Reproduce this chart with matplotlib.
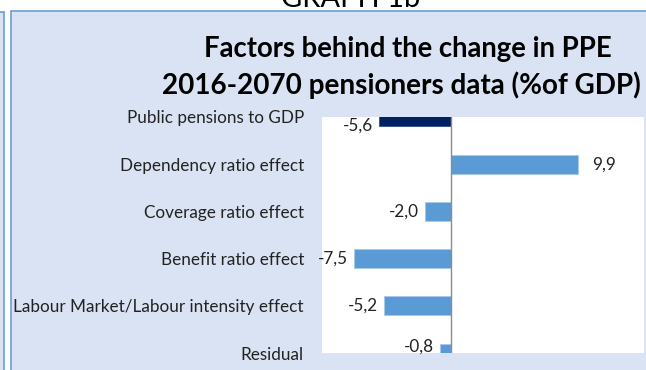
import matplotlib
matplotlib.use("Agg")
import matplotlib.pyplot as plt
from matplotlib.patches import Rectangle

# data (top to bottom)
categories = ["Public pensions to GDP", "Dependency ratio effect", "Coverage ratio effect",
              "Benefit ratio effect", "Labour Market/Labour intensity effect", "Residual"]
values = [-5.6, 9.9, -2.0, -7.5, -5.2, -0.8]
value_labels = ["-5,6", "9,9", "-2,0", "-7,5", "-5,2", "-0,8"]
bar_colors = ["#002060", "#5b9bd5", "#5b9bd5", "#5b9bd5", "#5b9bd5", "#5b9bd5"]
edge_colors = ["#3a5a94", "#a9c9ea", "#a9c9ea", "#a9c9ea", "#a9c9ea", "#a9c9ea"]

BG = "#dae3f3"
BORDER = "#6a9fd8"
TXT = "#222222"

plt.rcParams["font.family"] = ["Lato", "DejaVu Sans"]

W, H = 646, 370
fig = plt.figure(figsize=(W / 100, H / 100), dpi=100)
fig.patch.set_facecolor("white")

# background panels (screenshot frame), drawn on an axes kept behind the chart
bg = fig.add_axes([0, 0, 1, 1], zorder=-1)
bg.set_xlim(0, W)
bg.set_ylim(H, 0)
bg.axis("off")
bg.add_patch(Rectangle((11, 11), W, H, facecolor=BG, edgecolor=BORDER, lw=1.2))
bg.add_patch(Rectangle((-10, 12), 13.5, H, facecolor=BG, edgecolor=BORDER, lw=1.2))

# cut-off heading above the box
fig.text(351 / W, 1 - 7 / H, "GRAPH 1b", ha="center", va="baseline", fontsize=21, color="black")

fig.text(408 / W, 1 - 57 / H, "Factors behind the change in PPE", ha="center", va="baseline",
         fontsize=19.8, fontweight="bold", color="black")
fig.text(401 / W, 1 - 94 / H, "2016-2070 pensioners data (%of GDP)", ha="center", va="baseline",
         fontsize=20.1, fontweight="bold", color="black")

ax = fig.add_axes([322 / W, 1 - 353 / H, (644 - 322) / W, (353 - 117) / H])
ax.set_facecolor("white")
pos = list(range(len(categories)))
ax.barh(pos, values, height=0.4, color=bar_colors, edgecolor=edge_colors, lw=0.7, zorder=2)
ax.axvline(0, color="#8c8c8c", lw=1.0, zorder=3)
ax.set_xlim(-10, 15)
ax.set_ylim(5, 0)
ax.set_yticks(pos)
ax.set_yticklabels(categories, fontsize=12.3, color=TXT)
ax.tick_params(axis="y", length=0, pad=13)
ax.set_xticks([])
for s in ax.spines.values():
    s.set_visible(False)

# value labels; clipped end bars get their labels nudged inward
dy = [-9, 0, 0, 0, 0, 6]
for i, (v, lab) in enumerate(zip(values, value_labels)):
    off = 14 if v > 0 else -6
    ax.annotate(lab, (v, i), xytext=(off * 0.72, dy[i] * 0.72), textcoords="offset points",
                ha="left" if v > 0 else "right", va="center", fontsize=12.3,
                color=TXT, annotation_clip=False)

fig.savefig("out.png", dpi=100)
